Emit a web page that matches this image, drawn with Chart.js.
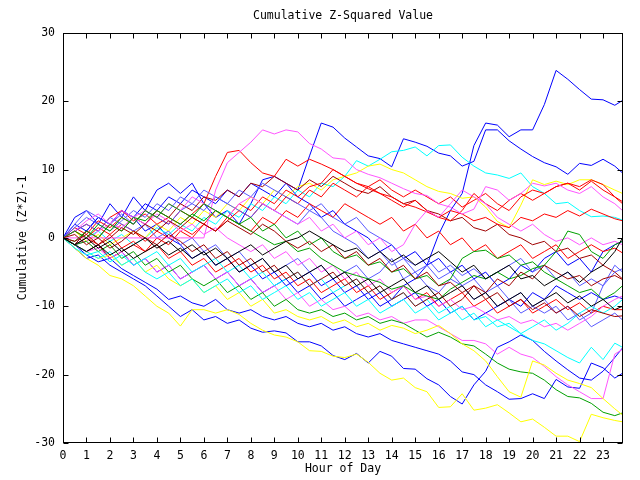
<!DOCTYPE html>
<html>
<head>
<meta charset="utf-8">
<script src="https://cdn.jsdelivr.net/npm/chart.js@4.4.1/dist/chart.umd.min.js"></script>
<style>
  html, body { margin: 0; padding: 0; background: #fff; }
  canvas { display: block; }
</style>
</head>
<body>
<canvas id="myChart" width="640" height="480"></canvas>
<script>
// hour of day (half hour steps, last sample just before midnight)
const hours = [0,0.5, 1,1.5, 2,2.5, 3,3.5, 4,4.5, 5,5.5, 6,6.5, 7,7.5, 8,8.5, 9,9.5, 10,10.5, 11,11.5,
  12,12.5, 13,13.5, 14,14.5, 15,15.5, 16,16.5, 17,17.5, 18,18.5, 19,19.5, 20,20.5, 21,21.5, 22,22.5, 23,23.5, 23.83];

const xTicks = [0,1,2,3,4,5,6,7,8,9,10,11,12,13,14,15,16,17,18,19,20,21,22,23];
const yTicks = [-30,-20,-10,0,10,20,30];

// cumulative (Z*Z)-1 per station
const s01 = [0,-1, -2,-1, -3,-2, -4,-3, -5,-4, -6,-5, -4,-6, -5,-7, -6,-8, -7,-6, -8,-7, -9,-8, -10,-9, -8,-10, -9,-7, -6,-4, 0.5,4, 6.5,13.5, 16.8,16.5, 14.8,15.8, 15.8,19.5, 24.5,23.2, 21.7,20.3, 20.2,19.4, 20.1];
const s02 = [0,2, 1,3, 2,4, 3,5, 4,6, 5,7, 6,5, 7,6, 8,7, 6,8, 7,12, 16.8,16.2, 14.6,13.3, 12,11.6, 10.4,14.5, 14,13.4, 12.4,12, 10.5,11.2, 15.8,15.8, 14.2,13, 11.9,11, 10.4,9.3, 10.9,10.6, 11.5,10.5, 9.5];
const s03 = [0,0, 0,0, 0,0, 0,0, 0,0, 0,0, 0,7, 11,12.5, 14,15.8, 15.2,15.8, 15.5,13.8, 13,11.7, 11.5,10, 9.3,8.8, 8,7.2, 6.5,6.2, 5,4.5, 3.5,4.2, 7.5,7, 5.5,6.5, 8,7.6, 8,7, 6.5,7.5, 6,5, 4];
const s04 = [0,1, 2,1, 3,4, 2.5,3.5, 2,3, 2,3.5, 5,9, 12.5,12.8, 11,9.5, 9,11.5, 10.5,11.5, 10.8,10, 9,8, 7.2,6.5, 6,5, 4.5,3.8, 3,4, 3.5,2.5, 3,2, 1.5,3, 2.5,3.5, 3,4, 3.2,4.2, 3.5,2.8, 2.5];
const s05 = [0,-1, 0,1, -0.5,0.5, -1,0, 1.5,0.5, 2,1, 3,2, 4,3, 5,4, 6,5, 7,6, 8,7.5, 9,11.3, 10.5,11.5, 12.6,12.8, 13.3,12, 13.5,13.6, 11.8,10.5, 9.5,9.2, 8.7,9.5, 7.5,6.5, 5,5.2, 4,3.1, 3.2,3, 2.6];
const s06 = [0,1, -0.5,0.5, -1,0, 1,0, 2,1, 3,2, 4,3, 5,4, 6,5, 7,6, 7.5,8, 7,8.5, 9,9.5, 10.5,10.8, 10,9.5, 8.5,7.5, 6.8,6.5, 5.8,6, 4.5,2.4, 1.5,4.8, 8.5,7.8, 8.3,7.8, 8.5,8.5, 7.8,7, 6.5];
const s07 = [0,-1, 1,0, 2,1, 3,2, 4,3, 5,4, 6,5.5, 7,6, 8,7.5, 9,8, 7,8.5, 7.5,9, 8,7, 6.5,7.5, 6,5, 5.5,4, 3.5,2.5, 3,1.5, 1,2, 0.5,0, -1,-0.5, -2,-1.5, -3,-2.5, -4,-5, -6];
const s08 = [0,1.5, 0.5,2.5, 1.5,3, 2,4, 3,2, 4,3, 2,4, 3,5, 4,6, 5,7, 6,7.5, 8,10, 9,8, 7.5,8.5, 7,6, 7,6, 5,6, 4.5,5.5, 6.5,5, 4,6, 7,6.5, 7.5,8, 7,8.3, 7,6, 5.3];
const s09 = [0,-1, -0.5,1, 2,1.5, 3,4, 3,5, 4,6, 5,4, 3,5, 6,5, 4,3, 2,3, 1,2, 0,1, -1,0, -2,-1, 2,4, 3,5, 7,6, 5,3, 2,1, 2,0.5, -0.5,0, -1,0, -1,-0.5, -1];
const s10 = [0,-1, 0,-1.5, -0.5,-2, -1,0, -1.5,-0.5, -2,-1, -2.5,-1.5, -3,-2, -1,-2.5, -1.5,-0.5, 0,1, 0,-1, -2,-1.5, -3,-2, -3.5,-2.5, -4,-3, -2,-3.5, -5,-4, -6,-5, -4,-6, -5.5,-7, -6,-5, -6.5,-5, -4,-2, 0];
const s11 = [0,-0.5, 1,0, 2,1, 3,2.5, 4,3, 2,3.5, 2.5,4, 3,2, 1,0, -1,-0.5, -2,-1.5, -3,-4, -5,-5.5, -6,-6.5, -7.5,-7, -8,-8.5, -9,-7.5, -6.5,-5.5, -6,-5, -6,-5.5, -4.5,-4, -2,1, 0.5,-2, -3,-1, -0.5];
const s12 = [0,1, 2,1, 3,2, 1,2, 0,1, -1,0, -2,-1, -3,-2, -4,-3, -5,-4, -3,-5, -4,-6, -5,-4, -6,-5, -3,-6, -5,-7, -8,-6, -7,-9, -8,-10, -9,-11, -10,-9, -11,-10, -12,-11, -7,-4, -5];
const s13 = [0,-1, -2,-1, -3,-2, -1,-2, 0,-1, 1,0, 2,1, 3,2, 1,3, 2,4, 3,5, 4,3, 5,4, 3,2, 3,1, 2,0, 1,-1, 0,-2, -1,-3, -2,-1, -3,-2, -1,-3, -2,-1, -2,-1.5, -2.2];
const s14 = [0,0.5, -1,0, -1.5,-0.5, 1,0, -1,0.5, -0.5,-2, -1,-3, -2,-4, -3,-5, -4,-6, -5,-7, -6,-5, -7,-6, -8,-7, -9,-8, -10,-9, -8,-10, -9,-7, -8,-6, -7,-5, -6,-4, -5,-6, -5.5,-7, -6,-5.5, -6.1];
const s15 = [0,-1, 1,3, 2,4, 3,1, 2,0, -1,-3, -2,-4, -3,-5, -4,-6, -5,-7, -6,-5, -7,-6, -8,-7, -9,-8, -10,-9, -8,-10, -9,-11, -10,-12, -11,-10, -9,-10, -8,-9, -7,-8, -9,-8, -9,-8.5, -8.9];
const s16 = [0,-1.5, -2.5,-2, -3.5,-2.5, -4,-3, -2,-4, -3,-5, -4,-3, -5,-4, -6,-5, -7,-6, -5,-7, -6,-8, -7,-6, -8,-7, -9,-8, -10,-9, -11,-10, -12,-11, -13,-12, -13,-14, -15,-15.5, -16.5,-17.5, -18.3,-16, -17.8,-15.4, -16];
const s17 = [0,-1, -2,-1.5, -3,-2, -4,-3, -5,-4, -6,-5, -4,-6, -5,-7, -6,-8, -7,-9, -8,-10, -9,-10.5, -10,-11.5, -11,-12, -11.5,-12.5, -12,-12, -13,-14, -15,-15, -15.5,-17, -16,-17, -17.5,-18.8, -20.3,-21.5, -22.5,-23.5, -23.5,-17, -16.3];
const s18 = [0,-1.5, -3,-4, -5.5,-6, -7,-8.5, -10,-11, -12.9,-10.5, -10.5,-11, -10.5,-11.2, -12.5,-13.5, -14.2,-14.5, -15.2,-16.5, -16.6,-17.3, -17.5,-17, -18.2,-19.8, -20.8,-20.5, -21.9,-22.5, -24.8,-24.7, -22.8,-25.2, -24.9,-24.4, -25.6,-26.9, -26.5,-27.7, -29,-29, -29.8,-25.8, -26.3,-26.7, -26.9];
const s19 = [0,-1, -2,-3, -2.5,-4, -3,-5, -4,-6, -7,-6, -8,-7, -9,-8, -10,-9, -11,-10.5, -11.5,-12, -11.5,-12.5, -12,-13, -12.5,-13.5, -12.8,-13.2, -14,-13.5, -12.8,-14, -15.5,-16.5, -18,-20.3, -22.5,-23.3, -18,-18.6, -19.8,-20.8, -21.3,-21.9, -23.5,-25, -25.9];
const s20 = [0,-1.5, -3,-2.5, -4,-5, -6,-7, -8.5,-10, -11.5,-10.5, -12,-11.5, -12.5,-12, -13.2,-13.8, -13.6,-13.9, -15.2,-15.2, -15.8,-17.2, -17.8,-16.9, -18.3,-16.6, -17.3,-19.1, -19.2,-20.6, -21.5,-23.2, -24.3,-21.5, -19.5,-16, -15.2,-14.2, -15,-16.6, -18,-19.3, -20.5,-20.8, -19.5,-17.5, -16.1];
const s21 = [0,-1, -2.5,-3.5, -3,-4.5, -5.5,-6.5, -7.5,-9, -8.5,-9.5, -10,-9, -10.5,-11, -10.5,-11.5, -12,-11.5, -12.5,-13, -12.5,-13.5, -13,-14, -14.5,-14, -15,-15.5, -16,-16.5, -17,-18, -19.6,-20, -21.5,-22.5, -23.6,-23.5, -22.8,-23.5, -20.7,-21.8, -22,-18.3, -19,-20.5, -19.8];
const s22 = [0,-1, -0.5,-2, -1,-3, -2,-4, -3,-5, -4,-6, -7,-6, -8,-7, -9,-8, -10,-9, -10.5,-11, -10.5,-11.5, -11,-12, -11.5,-12.5, -12,-12.5, -13.5,-14.5, -13.8,-14.5, -15.5,-15.8, -17,-18.3, -19.2,-19.6, -19.8,-20.8, -22.2,-23.2, -23.4,-24.2, -25.5,-26, -25.6];
const s23 = [0,1, 0,2, 1,3, 2,4, 3,5, 4,3, 5,4, 3,2, 3,1, 2,0, 1,-1, 0,-2, -3,-2.5, -4,-3.5, -5,-4.5, -6,-5.5, -7,-6, -3,-2, -1.8,-3, -2.5,-4, -3.5,-5, -6,-7, -8,-7.5, -9,-8, -7];
const s24 = [0,-1, -2,-3, -2,-4, -3,-5, -6,-5, -7,-6, -8,-7, -6,-8, -7,-9, -8,-7, -9,-8, -10,-9, -8,-10, -9,-11, -10,-9, -11,-10, -12,-11, -10,-12, -11.5,-13, -12.5,-14, -13,-12, -13.5,-12.5, -11,-10, -11,-10, -9];
const s25 = [0,1, 0,-1, 0.5,-1.5, -0.5,-2, -1,-3, -2,-4, -3,-5, -4,-3, -5,-4, -6,-5, -7,-6, -8,-7, -6,-8, -7,-9, -8,-7, -9,-8, -10,-9, -8,-10, -9,-11, -10,-9, -11,-10, -9,-10.5, -9.5,-11, -10,-10.5, -10.5];
const s26 = [0,-0.5, 0.5,-1, 0,1.5, 0.5,2, 1,2.5, 1.5,3, 2,1, 2.5,1.5, 0.5,2, 1,-0.5, -1.5,-0.5, -2,-1, -3,-2, -4,-3, -5,-4, -6,-5, -7,-6.5, -8,-7, -9,-8, -10,-9, -10.5,-9.5, -11,-10, -11.5,-10.5, -11,-11.5, -11.4];
const s27 = [0,-1, -2,-1, -2.5,-1.5, -3,-2, -1,-2.5, -1.5,-3, -2,-4, -3,-5, -4,-3, -5,-4, -6,-5, -4,-6, -5,-7, -6,-8, -7,-6, -8,-7, -9,-8, -7,-9, -8,-10, -9,-8, -10,-9, -8,-9.5, -8.5,-10, -9,-10.5, -10];
const s28 = [0,2, 4,3, 2,3.5, 2,4, 3,2, 4,5, 4,6, 5,4, 3,5, 4,3, 2,4, 3,1, 0,-1, -3,-2, -4,-3, -5,-4, -6,-5, -7,-6, -8,-7, -9,-8, -10,-11, -10,-12, -11,-13, -12,-11, -12];
const s29 = [0,1.5, 3,2, 1,2.5, 4,3, 5,4, 6,5, 7,6, 5,7, 6,8, 7,6, 5,4, 5,3, 2,3, 1,0, -1,-3, -4,-3, -5,-4, -5.5,-4.5, -6,-5, -4,-3, -5,-4, -6,-5, -7,-6, -7,-5, -4.5];
const s30 = [0,3, 4,2, 5,3, 6,4, 7,8, 6.5,8, 5,3, 4,2, 5,8.5, 9,8, 6,5, 3,4, 2,1, 0,-2, -1,-3, -2,-4, -3,-5, -4,-6, -5,-7, -6,-4, -5,-3, -2,-4, -3,-5, -2,-1, -0.5];
const s31 = [0,1, 2.5,3.5, 2,4, 3,2, 3.5,2.5, 1,2, 0.5,1.5, 0,-1, -2,-1, -3,-2, -4,-3, -5,-4, -6,-5, -7,-6, -8,-7, -9,-8.5, -10,-9, -10.5,-10, -11,-12, -11.5,-12.5, -12,-13, -12.5,-13.5, -12.5,-11.5, -10,-9, -8.5];
const s32 = [0,-1, 0,1.5, 0.5,2, 1,-0.5, 1,0, 1.5,0.5, 2,1, 2.5,4, 3,5, 4,6, 5,7, 6,8, 7,6, 7.5,6.5, 5.5,4.5, 5.5,4, 3,2.5, 4,6.5, 5,4, 5.5,6.5, 5.5,6.5, 7.5,8, 7.5,8.5, 7.8,6, 5];

const seriesList = [s10, s27, s14, s26, s24, s16, s19, s18, s22, s23, s11, s09, s31, s17, s03, s28, s29, s12,
  s13, s32, s25, s08, s04, s07, s06, s05, s15, s30, s21, s20, s02, s01];
const seriesColors = ['#000000', '#000000', '#a00000', '#a00000', '#00ffff', '#00ffff', '#ffff00', '#ffff00', '#00a000', '#00a000', '#00a000', '#ff55ff', '#ff55ff', '#ff55ff', '#ff55ff', '#5a5aff', '#5a5aff', '#5a5aff',
  '#ff0000', '#ff0000', '#ff0000', '#ff0000', '#ff0000', '#a00000', '#ffff00', '#00ffff', '#0000ff', '#0000ff', '#0000ff', '#0000ff', '#0000ff', '#0000ff'];

const monoFont = { family: "'DejaVu Sans Mono', monospace", size: 11.5, weight: 'normal' };

// frame with inward tick marks, like the original plot
const frameTicks = {
  id: 'frameTicks',
  afterDatasetsDraw(chart) {
    const { ctx, chartArea: a, scales: { x, y } } = chart;
    const L = Math.round(a.left) + 0.5, R = Math.round(a.right) - 0.5;
    const T = Math.round(a.top) + 0.5, B = Math.round(a.bottom) - 0.5;
    ctx.save();
    ctx.strokeStyle = '#000';
    ctx.lineWidth = 1;
    ctx.strokeRect(L, T, R - L, B - T);
    ctx.beginPath();
    xTicks.forEach(v => {
      const px = Math.round(x.getPixelForValue(v)) + 0.5;
      ctx.moveTo(px, B); ctx.lineTo(px, B - 5);
      ctx.moveTo(px, T); ctx.lineTo(px, T + 5);
    });
    yTicks.forEach(v => {
      const py = Math.round(y.getPixelForValue(v)) + 0.5;
      ctx.moveTo(L, py); ctx.lineTo(L + 5, py);
      ctx.moveTo(R, py); ctx.lineTo(R - 5, py);
    });
    ctx.stroke();
    ctx.restore();
  }
};

const data = {
  datasets: seriesList.map((vals, i) => ({
    data: vals.map((v, j) => ({ x: hours[j], y: v })),
    borderColor: seriesColors[i],
    borderWidth: 1,
    pointRadius: 0,
    tension: 0,
    fill: false
  }))
};

const config = {
  type: 'line',
  data,
  options: {
    responsive: false,
    animation: false,
    events: [],
    layout: { padding: { top: 0, right: 17, left: 0, bottom: 0 } },
    plugins: {
      legend: { display: false },
      tooltip: { enabled: false },
      title: {
        display: true,
        fullSize: false,
        text: 'Cumulative Z-Squared Value',
        color: '#000',
        font: monoFont,
        padding: { top: 9, bottom: 10 }
      }
    },
    scales: {
      x: {
        type: 'linear',
        min: 0,
        max: 23.85,
        afterBuildTicks: axis => { axis.ticks = xTicks.map(v => ({ value: v })); },
        afterFit: scale => { scale.height = 37; },
        grid: { display: false, drawTicks: false },
        border: { display: false },
        ticks: { color: '#000', font: monoFont, padding: 6, maxRotation: 0, autoSkip: false },
        title: { display: true, text: 'Hour of Day', color: '#000', font: monoFont, padding: { top: 0, bottom: 4 } }
      },
      y: {
        min: -30,
        max: 30,
        afterBuildTicks: axis => { axis.ticks = yTicks.map(v => ({ value: v })); },
        afterFit: scale => { scale.width = 63; },
        grid: { display: false, drawTicks: false },
        border: { display: false },
        ticks: { color: '#000', font: monoFont, padding: 8 },
        title: { display: true, text: 'Cumulative (Z*Z)-1', color: '#000', font: monoFont, padding: { top: 16, bottom: 0 } }
      }
    }
  },
  plugins: [frameTicks]
};

const myChart = new Chart(document.getElementById('myChart'), config);
</script>
</body>
</html>
